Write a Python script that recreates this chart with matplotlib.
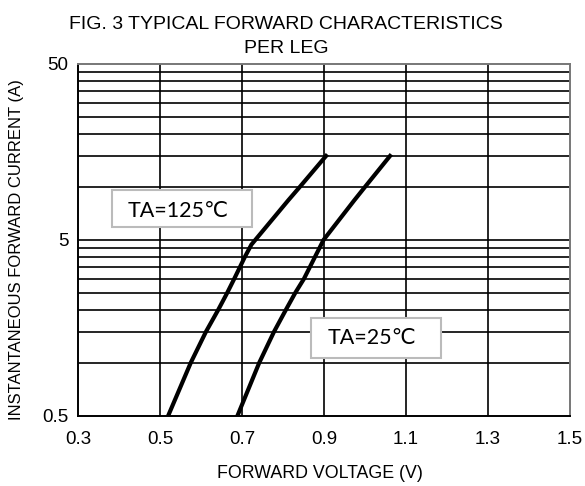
import matplotlib
matplotlib.use("Agg")
import matplotlib.pyplot as plt
from matplotlib.patches import Rectangle

# ---- data ----
v_125 = [0.520, 0.575, 0.612, 0.642, 0.664, 0.681, 0.707, 0.723, 0.813, 0.841, 0.905]
i_125 = [0.5, 1.0, 1.5, 2.0, 2.5, 3.0, 4.0, 4.7, 8.4, 10.0, 15.0]
v_25 = [0.689, 0.742, 0.778, 0.807, 0.830, 0.851, 0.878, 0.899, 0.974, 1.000, 1.061]
i_25 = [0.5, 1.0, 1.5, 2.0, 2.5, 3.0, 4.0, 5.0, 8.4, 10.0, 15.0]
x_ticks = [0.3, 0.5, 0.7, 0.9, 1.1, 1.3, 1.5]
y_ticks = [0.5, 5, 50]
y_tick_labels = ["0.5", "5", "50"]
y_grid = [0.5 * k for k in range(2, 10)] + [5 * k for k in range(1, 10)]
title_lines = ["FIG. 3 TYPICAL FORWARD CHARACTERISTICS", "PER LEG"]
xlabel = "FORWARD VOLTAGE (V)"
ylabel = "INSTANTANEOUS FORWARD CURRENT (A)"
label_125 = "TA=125\u2103"
label_25 = "TA=25\u2103"

plt.rcParams['font.family'] = ['Liberation Sans', 'DejaVu Sans']

W, H = 585, 486
fig = plt.figure(figsize=(W / 100, H / 100), dpi=100)
ax = fig.add_axes([78 / W, 1 - 415.7 / H, 492 / W, 351.7 / H])
ax.set_yscale('log')
ax.set_xlim(0.3, 1.5)
ax.set_ylim(0.5, 50)

for y in y_grid:
    ax.axhline(y, color='black', lw=1.2, zorder=1)
for x in x_ticks[1:-1]:
    ax.axvline(x, color='black', lw=1.2, zorder=1)

ax.plot(v_125, i_125, color='black', lw=3.0, zorder=3, solid_joinstyle='round')
ax.plot(v_25, i_25, color='black', lw=3.0, zorder=3, solid_joinstyle='round')

ax.set_xticks(x_ticks)
ax.set_xticklabels([f"{x:.1f}" for x in x_ticks])
ax.set_yticks(y_ticks)
ax.set_yticklabels(y_tick_labels)
ax.yaxis.set_minor_locator(matplotlib.ticker.NullLocator())
ax.tick_params(length=0, labelsize=13.5)
ax.tick_params(axis='x', pad=11)
ax.tick_params(axis='y', pad=7)

for s in ['left', 'bottom']:
    ax.spines[s].set_color('black')
    ax.spines[s].set_linewidth(1.4)
for s in ['top', 'right']:
    ax.spines[s].set_color('#777777')
    ax.spines[s].set_linewidth(1.4)

fig.text(320 / W, 1 - 473 / H, xlabel, ha='center', va='center', fontsize=12.8)
fig.text(17 / W, 1 - 250 / H, ylabel, ha='center', va='center', fontsize=12,
         rotation=90)
fig.text(286 / W, 1 - 29 / H, title_lines[0], ha='center', va='baseline',
         fontsize=14)
fig.text(286 / W, 1 - 53 / H, title_lines[1], ha='center', va='baseline',
         fontsize=14)

def fx(px):
    return (px - 78) / 492

def fy(py):
    return (415.7 - py) / 351.7

def box(x0, y0, x1, y1, text, tx, ty):
    r = Rectangle((fx(x0), fy(y1)), fx(x1) - fx(x0), fy(y0) - fy(y1),
                  transform=ax.transAxes, facecolor='white',
                  edgecolor='#bbbbbb', lw=1.5, zorder=5)
    ax.add_patch(r)
    ax.text(fx(tx), fy(ty), text, transform=ax.transAxes, ha='left',
            va='center', fontsize=15.5, family=['Lato', 'DejaVu Sans'],
            zorder=6)

box(112, 190, 252, 227, label_125, 128, 211)
box(311, 318, 441, 358, label_25, 328, 338)

fig.savefig("out.png", dpi=100)
